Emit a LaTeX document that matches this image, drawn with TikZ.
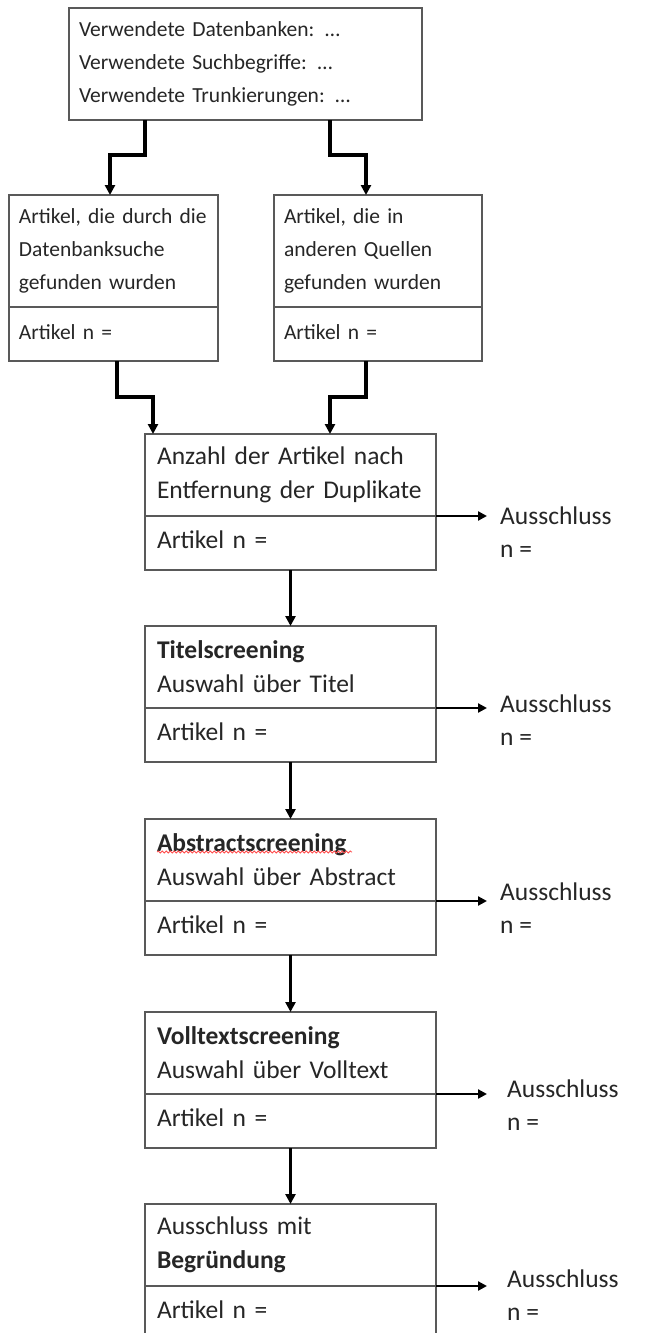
\documentclass[tikz,border=0pt]{standalone}
\usepackage{fontspec}
\setmainfont{Carlito}
\usepackage{tikz}
\usetikzlibrary{positioning,arrows.meta,calc,decorations.pathmorphing}

\begin{document}
\begin{tikzpicture}[x=1pt, y=-1pt,
    box/.style={draw=black!65, line width=1.4pt, anchor=north west, outer sep=0pt,
                inner ysep=0pt, align=left, text=black!85},
    small/.style={box, font=\fontsize{21.5}{33}\selectfont, inner xsep=10pt},
    smallN/.style={small, minimum height=54pt, text depth=4pt, below=0pt of #1},
    big/.style={box, font=\fontsize{25.5}{34}\selectfont, inner xsep=12pt,
                text width=267pt},
    head/.style={big, minimum height=82pt},
    count/.style={big, minimum height=54pt, text depth=6pt, below=0pt of #1},
    aus/.style={anchor=north west, align=left, font=\fontsize{25.5}{33}\selectfont,
                inner xsep=13pt, inner ysep=0pt, text=black!85},
    conn/.style={black, line width=3.2pt, -{Triangle[length=10pt, width=10pt]}},
    side/.style={black, line width=2.6pt, -{Triangle[length=9pt, width=9pt]}}]
  \useasboundingbox[fill=white] (0,0) rectangle (650,1333);
  % search box (top)
  \node[small, text width=333pt, minimum height=112pt] (suche) at (69,8)
    {Verwendete Datenbanken: …\\ Verwendete Suchbegriffe: …\\ Verwendete Trunkierungen: …};
  % sources
  \node[small, text width=189pt, minimum height=112pt] (dbank) at (9,195)
    {Artikel, die durch die\\ Datenbanksuche\\ gefunden wurden};
  \node[smallN=dbank, text width=189pt] (dbankN) {Artikel n =};
  \node[small, text width=188pt, minimum height=112pt] (quelle) at (274,195)
    {Artikel, die in\\ anderen Quellen\\ gefunden wurden};
  \node[smallN=quelle, text width=188pt] (quelleN) {Artikel n =};
  % screening steps
  \node[head] (dupl) at (145,434) {Anzahl der Artikel nach\\ Entfernung der Duplikate};
  \node[count=dupl] (duplN) {Artikel n =};
  \node[head] (titel) at (145,626) {\textbf{Titelscreening}\\ Auswahl über Titel};
  \node[count=titel] (titelN) {Artikel n =};
  \node[head] (abstr) at (145,819) {\textbf{Abstractscreening}\\ Auswahl über Abstract};
  \node[count=abstr] (abstrN) {Artikel n =};
  \node[head] (voll) at (145,1012) {\textbf{Volltextscreening}\\ Auswahl über Volltext};
  \node[count=voll] (vollN) {Artikel n =};
  \node[head] (begr) at (145,1204) {Ausschluss mit\\ \textbf{Begründung}};
  \node[count=begr] (begrN) {Artikel n =};
  % exclusions
  \node[aus] (aus1) at (487,507) {Ausschluss\\ n =};
  \node[aus] (aus2) at (487,695) {Ausschluss\\ n =};
  \node[aus] (aus3) at (487,883) {Ausschluss\\ n =};
  \node[aus, inner xsep=20pt] (aus4) at (487,1080) {Ausschluss\\ n =};
  \node[aus, inner xsep=20pt] (aus5) at (487,1270) {Ausschluss\\ n =};
  % spell-check squiggle
  \draw[red!70, line width=0.8pt, decorate, decoration={snake, amplitude=1pt, segment length=4pt}]
    ($(abstr.north west)+(12,33)$) -- ($(abstr.north west)+(207,33)$);
  % elbow connectors
  \draw[conn] ([xshift=76pt]suche.south west) -- ++(0,35) -| ([xshift=101pt]dbank.north west);
  \draw[conn] ([xshift=261pt]suche.south west) -- ++(0,35) -| ([xshift=92pt]quelle.north west);
  \draw[conn] ([xshift=108pt]dbankN.south west) -- ++(0,36) -| ([xshift=8pt]dupl.north west);
  \draw[conn] ([xshift=92pt]quelleN.south west) -- ++(0,36) -| ([xshift=185pt]dupl.north west);
  % main flow
  \draw[conn] (duplN) -- (titel);
  \draw[conn] (titelN) -- (abstr);
  \draw[conn] (abstrN) -- (voll);
  \draw[conn] (vollN) -- (begr);
  \draw[side] (duplN.north east) -- (duplN.north east -| aus1.west);
  \draw[side] (titelN.north east) -- (titelN.north east -| aus2.west);
  \draw[side] (abstrN.north east) -- (abstrN.north east -| aus3.west);
  \draw[side] (vollN.north east) -- (vollN.north east -| aus4.west);
  \draw[side] (begrN.north east) -- (begrN.north east -| aus5.west);
\end{tikzpicture}
\end{document}
